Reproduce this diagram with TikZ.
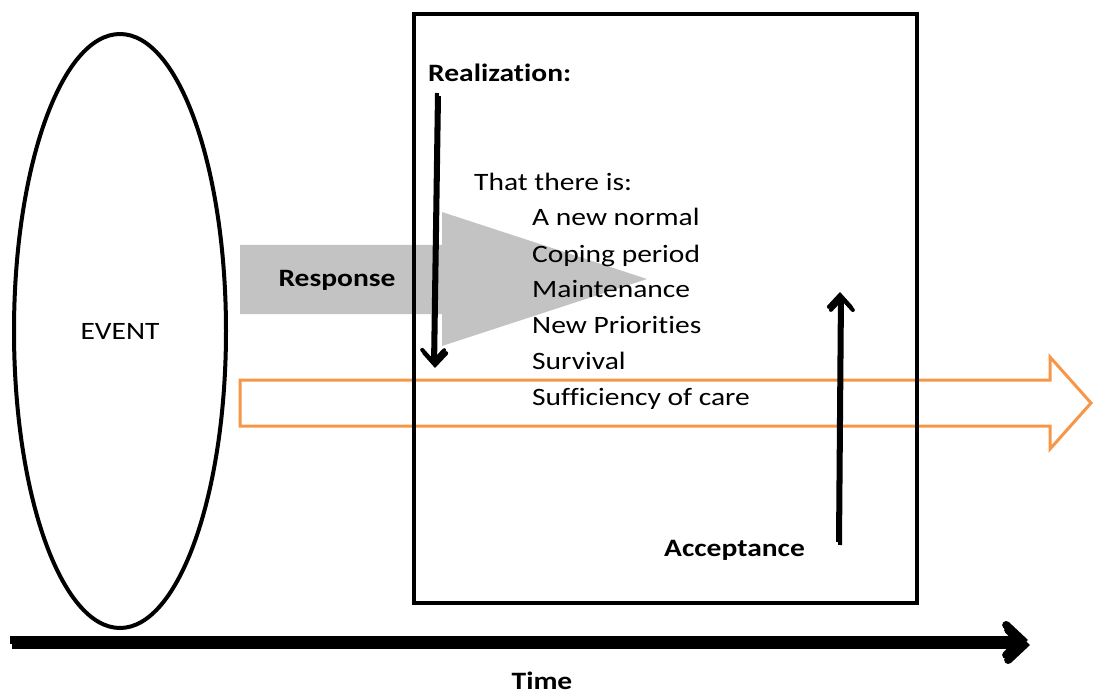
\documentclass[tikz,border=0pt]{standalone}
\usepackage{fontspec}
\setmainfont{Carlito}[FakeStretch=1.18, Ligatures=NoCommon]
\usetikzlibrary{arrows.meta,shapes.geometric}
\definecolor{respgray}{HTML}{C3C3C3}
\definecolor{flow}{HTML}{F79646}
\definecolor{shade}{HTML}{AAAAAA}
\begin{document}
\begin{tikzpicture}[x=1pt,y=-1pt,
  reg/.style={font=\fontsize{25}{30}\selectfont, inner sep=0},
  bld/.style={font=\fontsize{25}{30}\selectfont\bfseries, inner sep=0},
  outline/.style={line width=4pt},
  barb/.style={-{Straight Barb[length=12pt,width=22pt,line cap=round]}},
  bigbarb/.style={-{Straight Barb[length=16pt,width=30pt,line cap=round]}}]
\useasboundingbox (0,0) rectangle (1093,695);

% gray response arrow
\fill[respgray] (240,245) -- (442,245) -- (442,212) -- (647,279)
  -- (442,346) -- (442,314) -- (240,314) -- cycle;
\node[bld, anchor=base] (resp) at (337,287) {Response};

% orange time-flow arrow (outline only)
\draw[flow, line width=3pt, line join=miter]
  (240,380) -- (1050,380) -- (1050,357) -- (1091,403) -- (1050,449)
  -- (1050,426) -- (240,426) -- cycle;

% event ellipse
\node[ellipse, draw, outline, minimum width=212pt, minimum height=594pt, reg]
  (event) at (120,331) {EVENT};

% phase box
\node[draw, outline, minimum width=503pt, minimum height=589pt, inner sep=0]
  (box) at (665.5,308.5) {};

% texts inside the box
\node[bld, anchor=base west] (real) at (428,82) {Realization:};
\node[reg, anchor=base west] (intro) at (474,191) {That there is:};
\node[reg, anchor=base west] (i1) at (532,226) {A new normal};
\node[reg, anchor=base west] (i2) at (532,262) {Coping period};
\node[reg, anchor=base west] (i3) at (532,298) {Maintenance};
\node[reg, anchor=base west] (i4) at (532,334) {New Priorities};
\node[reg, anchor=base west] (i5) at (532,369) {Survival};
\node[reg, anchor=base west] (i6) at (532,405) {Sufficiency of care};
\node[bld, anchor=base west] (acc) at (664,556) {Acceptance};
\node[bld, anchor=base] (time) at (542,689) {Time};

% arrow end points
\coordinate (rtop) at (437,93);
\coordinate (rbot) at (433,365);
\coordinate (abot) at (838,542);
\coordinate (atop) at (840,292);
\coordinate (tstart) at (10,640);
\coordinate (tend) at (1028,640);

% realization and acceptance arrows
\draw[shade, line width=4pt, barb] ([xshift=2pt,yshift=-3pt]rtop) -- ([xshift=2pt,yshift=-3pt]rbot);
\draw[line width=4pt, barb] (rtop) -- (rbot);
\draw[shade, line width=4pt, barb] ([xshift=2pt,yshift=-3pt]abot) -- ([xshift=2pt,yshift=-3pt]atop);
\draw[line width=4pt, barb] (abot) -- (atop);

% time axis with its shadow
\draw[shade, line width=8pt, bigbarb] ([xshift=2pt,yshift=-5pt]tstart) -- ([xshift=2pt,yshift=-5pt]tend);
\draw[line width=8pt, bigbarb] (tstart) -- (tend);
\end{tikzpicture}
\end{document}
